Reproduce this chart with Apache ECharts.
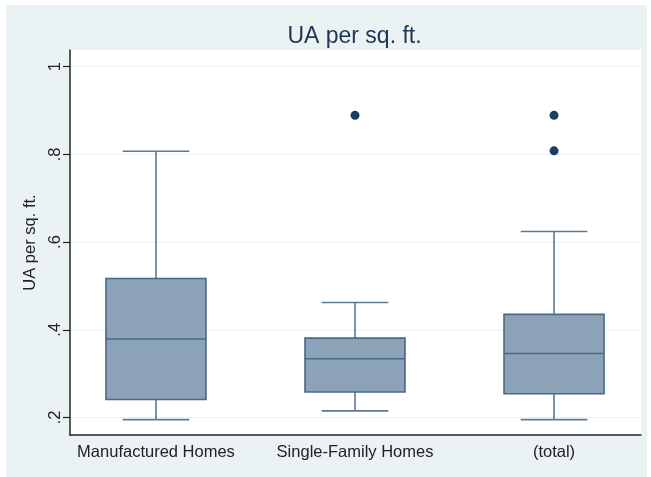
<!DOCTYPE html>
<html>
<head>
<meta charset="utf-8">
<script src="https://cdn.jsdelivr.net/npm/echarts@6/dist/echarts.min.js"></script>
<style>html,body{margin:0;padding:0;background:#fff}#c{width:651px;height:477px}</style>
</head>
<body>
<div id="c"></div>
<script>
const categories = ["Manufactured Homes", "Single-Family Homes", "(total)"];
// [lowerWhisker, q1, median, q3, upperWhisker]
const boxStats = [
  [0.195, 0.241, 0.379, 0.517, 0.807],
  [0.215, 0.258, 0.334, 0.381, 0.462],
  [0.195, 0.254, 0.346, 0.435, 0.624]
];
// [categoryIndex, value]
const outliers = [
  [1, 0.889],
  [2, 0.889],
  [2, 0.808]
];
const yTicks = [0.2, 0.4, 0.6, 0.8, 1];
const yTickLabels = [".2", ".4", ".6", ".8", "1"];

const chart = echarts.init(document.getElementById('c'), null, {renderer: 'canvas'});
const boxData = boxStats.map((s, i) => [i + 1].concat(s));
const outData = outliers.map(o => [o[0] + 1, o[1]]);
const font = "'Liberation Sans', Arial, sans-serif";

function yLabel(v) {
  let best = 0;
  for (let i = 0; i < yTicks.length; i++) {
    if (Math.abs(yTicks[i] - v) < Math.abs(yTicks[best] - v)) best = i;
  }
  return yTickLabels[best];
}

chart.setOption({
  animation: false,
  backgroundColor: '#ffffff',
  graphic: [
    {type: 'rect', z: -10, shape: {x: 6, y: 5, width: 641, height: 472}, style: {fill: '#EAF2F3'}},
    {type: 'rect', z: -9, shape: {x: 70, y: 50, width: 571, height: 385}, style: {fill: '#ffffff'}}
  ],
  title: {
    text: 'UA per sq. ft.',
    left: 349.5, top: 20, textAlign: 'center',
    textStyle: {fontFamily: font, fontSize: 23, fontWeight: 'normal', color: '#1E3552'}
  },
  grid: {left: 70, right: 10, top: 50, bottom: 42},
  xAxis: {
    type: 'value', min: 0.568, max: 3.437,
    axisLine: {show: true, lineStyle: {color: '#222', width: 1.5}},
    axisTick: {show: false},
    splitLine: {show: false},
    axisLabel: {
      customValues: [1, 2, 3],
      formatter: v => categories[Math.round(v) - 1] || '',
      fontFamily: font, fontSize: 16.5, color: '#222', margin: 9
    }
  },
  yAxis: {
    type: 'value', min: 0.160, max: 1.038,
    name: 'UA per sq. ft.', nameLocation: 'middle', nameGap: 22,
    nameTextStyle: {fontFamily: font, fontSize: 16.5, color: '#222'},
    axisLine: {show: true, lineStyle: {color: '#222', width: 1.5}},
    axisTick: {show: true, customValues: yTicks, length: 7, lineStyle: {color: '#222', width: 1.2}},
    splitLine: {show: true, lineStyle: {color: '#EAF2F3', width: 1}},
    axisLabel: {
      customValues: yTicks,
      formatter: yLabel,
      rotate: 90, fontFamily: font, fontSize: 16.5, color: '#222', margin: 6.5
    }
  },
  series: [
    {
      type: 'custom',
      data: boxData,
      encode: {x: 0, y: [1, 2, 3, 4, 5]},
      renderItem: function (params, api) {
        const x = api.value(0);
        const pLow = api.coord([x, api.value(1)]);
        const pQ1 = api.coord([x, api.value(2)]);
        const pMed = api.coord([x, api.value(3)]);
        const pQ3 = api.coord([x, api.value(4)]);
        const pHigh = api.coord([x, api.value(5)]);
        const halfBox = api.size([0.5025, 0])[0] / 2;
        const halfCap = api.size([0.335, 0])[0] / 2;
        const cx = pQ1[0];
        const wStyle = {stroke: '#5A7A98', lineWidth: 1.6};
        const bStyle = {stroke: '#456A8C', lineWidth: 1.6};
        return {
          type: 'group',
          children: [
            {type: 'line', shape: {x1: cx, y1: pQ3[1], x2: cx, y2: pHigh[1]}, style: wStyle},
            {type: 'line', shape: {x1: cx, y1: pQ1[1], x2: cx, y2: pLow[1]}, style: wStyle},
            {type: 'line', shape: {x1: cx - halfCap, y1: pHigh[1], x2: cx + halfCap, y2: pHigh[1]}, style: wStyle},
            {type: 'line', shape: {x1: cx - halfCap, y1: pLow[1], x2: cx + halfCap, y2: pLow[1]}, style: wStyle},
            {type: 'rect', shape: {x: cx - halfBox, y: pQ3[1], width: 2 * halfBox, height: pQ1[1] - pQ3[1]},
              style: {fill: '#8CA2B6', stroke: '#456A8C', lineWidth: 1.6}},
            {type: 'line', shape: {x1: cx - halfBox, y1: pMed[1], x2: cx + halfBox, y2: pMed[1]}, style: bStyle}
          ]
        };
      }
    },
    {
      type: 'scatter',
      data: outData,
      symbol: 'circle', symbolSize: 9,
      itemStyle: {color: '#1A3F66', opacity: 1}
    }
  ]
});
</script>
</body>
</html>
